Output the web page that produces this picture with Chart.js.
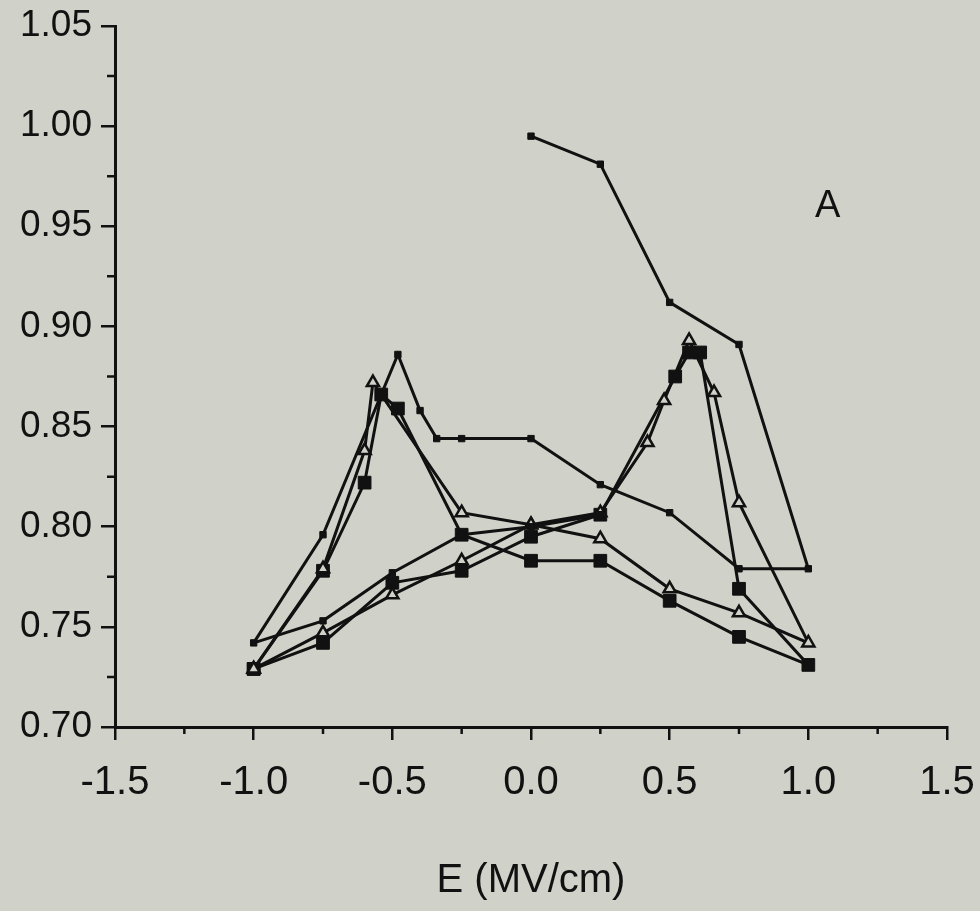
<!DOCTYPE html>
<html>
<head>
<meta charset="utf-8">
<script src="https://cdn.jsdelivr.net/npm/chart.js@4.4.1/dist/chart.umd.min.js"></script>
<style>
  html, body { margin: 0; padding: 0; background: #d0d2c9; }
</style>
</head>
<body>
<canvas id="myChart" width="980" height="911"></canvas>
<script>
// field E (MV/cm) and ratio
// first sweep (small squares): starts at 0, up to +1, back down to -1, then up again
const firstE = [0.0, 0.25, 0.5, 0.75, 1.0, 0.75, 0.5, 0.25, 0.0, -0.25, -0.34, -0.4, -0.48, -0.75, -1.0, -0.75, -0.5, -0.25, 0.0, 0.25];
const firstR = [0.995, 0.981, 0.912, 0.891, 0.779, 0.779, 0.807, 0.821, 0.844, 0.844, 0.844, 0.858, 0.886, 0.796, 0.742, 0.753, 0.777, 0.796, 0.800, 0.806];

// open triangles loop
const triE = [-1.0, -0.75, -0.6, -0.57, -0.25, 0.0, 0.25, 0.5, 0.75, 1.0, 0.75, 0.66, 0.57, 0.48, 0.42, 0.25, 0.0, -0.25, -0.5, -0.75, -1.0];
const triR = [0.729, 0.779, 0.838, 0.872, 0.807, 0.801, 0.794, 0.769, 0.757, 0.742, 0.812, 0.867, 0.893, 0.863, 0.842, 0.807, 0.801, 0.783, 0.766, 0.747, 0.729];

// big filled squares loop
const sqE = [-1.0, -0.75, -0.6, -0.54, -0.48, -0.25, 0.0, 0.25, 0.5, 0.75, 1.0, 0.75, 0.61, 0.57, 0.52, 0.25, 0.0, -0.25, -0.5, -0.75, -1.0];
const sqR = [0.729, 0.778, 0.822, 0.866, 0.859, 0.796, 0.783, 0.783, 0.763, 0.745, 0.731, 0.769, 0.887, 0.887, 0.875, 0.806, 0.795, 0.778, 0.772, 0.742, 0.729];

const xTicks = [-1.5, -1.0, -0.5, 0.0, 0.5, 1.0, 1.5];
const xTickLabels = ['-1.5', '-1.0', '-0.5', '0.0', '0.5', '1.0', '1.5'];
const xMinor = [-1.25, -0.75, -0.25, 0.25, 0.75, 1.25];
const yTicks = [0.70, 0.75, 0.80, 0.85, 0.90, 0.95, 1.00, 1.05];
const yTickLabels = ['0.70', '0.75', '0.80', '0.85', '0.90', '0.95', '1.00', '1.05'];
const yMinor = [0.725, 0.775, 0.825, 0.875, 0.925, 0.975, 1.025];

const xTitle = 'E (MV/cm)';
const panelLabel = 'A';

const ink = '#111111';
const paper = '#d0d2c9';
const face = '"Liberation Sans", Arial, Helvetica, sans-serif';

function pts(xs, ys) {
  return xs.map((v, i) => ({ x: v, y: ys[i] }));
}

const scanLook = {
  id: 'scanLook',
  beforeDraw(chart) {
    const ctx = chart.ctx;
    ctx.save();
    ctx.fillStyle = paper;
    ctx.fillRect(0, 0, chart.width, chart.height);
    ctx.restore();
  },
  afterDraw(chart) {
    const { ctx, scales: { x, y } } = chart;
    ctx.save();
    ctx.strokeStyle = ink;
    ctx.lineWidth = 2.5;
    ctx.beginPath();
    xMinor.forEach(v => {
      const px = x.getPixelForValue(v);
      ctx.moveTo(px, x.top);
      ctx.lineTo(px, x.top + 7);
    });
    yMinor.forEach(v => {
      const py = y.getPixelForValue(v);
      ctx.moveTo(y.right, py);
      ctx.lineTo(y.right - 8, py);
    });
    ctx.stroke();
    ctx.fillStyle = ink;
    ctx.font = '38px ' + face;
    ctx.textAlign = 'center';
    ctx.textBaseline = 'middle';
    ctx.fillText(panelLabel, x.getPixelForValue(1.07), y.getPixelForValue(0.96));
    ctx.restore();
  }
};

const lineBase = {
  showLine: true,
  borderColor: ink,
  borderWidth: 3,
  pointBorderColor: ink,
  tension: 0
};

let myChart = new Chart(document.getElementById('myChart'), {
  type: 'scatter',
  data: {
    datasets: [
      Object.assign({}, lineBase, {
        label: 'first sweep',
        data: pts(firstE, firstR),
        pointStyle: 'rect',
        pointRadius: 4.5,
        pointBackgroundColor: ink,
        pointBorderWidth: 1,
        order: 1
      }),
      Object.assign({}, lineBase, {
        label: 'triangles',
        data: pts(triE, triR),
        pointStyle: 'triangle',
        pointRadius: 7,
        pointBackgroundColor: paper,
        pointBorderWidth: 2.5,
        order: 2
      }),
      Object.assign({}, lineBase, {
        label: 'squares',
        data: pts(sqE, sqR),
        pointStyle: 'rect',
        pointRadius: 9,
        pointBackgroundColor: ink,
        pointBorderWidth: 1,
        order: 3
      })
    ]
  },
  options: {
    responsive: false,
    animation: false,
    devicePixelRatio: 1,
    layout: { padding: { left: 0, top: 26, right: 33, bottom: 0 } },
    plugins: {
      legend: { display: false },
      tooltip: { enabled: false }
    },
    scales: {
      x: {
        type: 'linear',
        min: -1.5,
        max: 1.5,
        afterBuildTicks: axis => { axis.ticks = xTicks.map(v => ({ value: v })); },
        afterFit: axis => {
          axis.height = 184;
          axis.paddingLeft = 0;
          axis.paddingRight = 0;
        },
        ticks: {
          color: ink,
          padding: 19,
          maxRotation: 0,
          font: { family: face, size: 40 },
          callback: (value, index) => xTickLabels[index]
        },
        grid: {
          drawOnChartArea: false,
          drawTicks: true,
          tickLength: 13,
          color: ink,
          lineWidth: 2.5
        },
        border: { display: true, color: ink, width: 3 },
        title: {
          display: true,
          text: xTitle,
          color: ink,
          font: { family: face, size: 40 },
          padding: { top: 0, bottom: 6 }
        }
      },
      y: {
        type: 'linear',
        min: 0.70,
        max: 1.05,
        afterBuildTicks: axis => { axis.ticks = yTicks.map(v => ({ value: v })); },
        afterFit: axis => {
          axis.width = 115;
          axis.paddingTop = 0;
          axis.paddingBottom = 0;
        },
        ticks: {
          color: ink,
          padding: 9,
          font: { family: face, size: 37 },
          callback: (value, index) => yTickLabels[index]
        },
        grid: {
          drawOnChartArea: false,
          drawTicks: true,
          tickLength: 14,
          color: ink,
          lineWidth: 2.5
        },
        border: { display: true, color: ink, width: 3 }
      }
    }
  },
  plugins: [scanLook]
});
</script>
</body>
</html>
